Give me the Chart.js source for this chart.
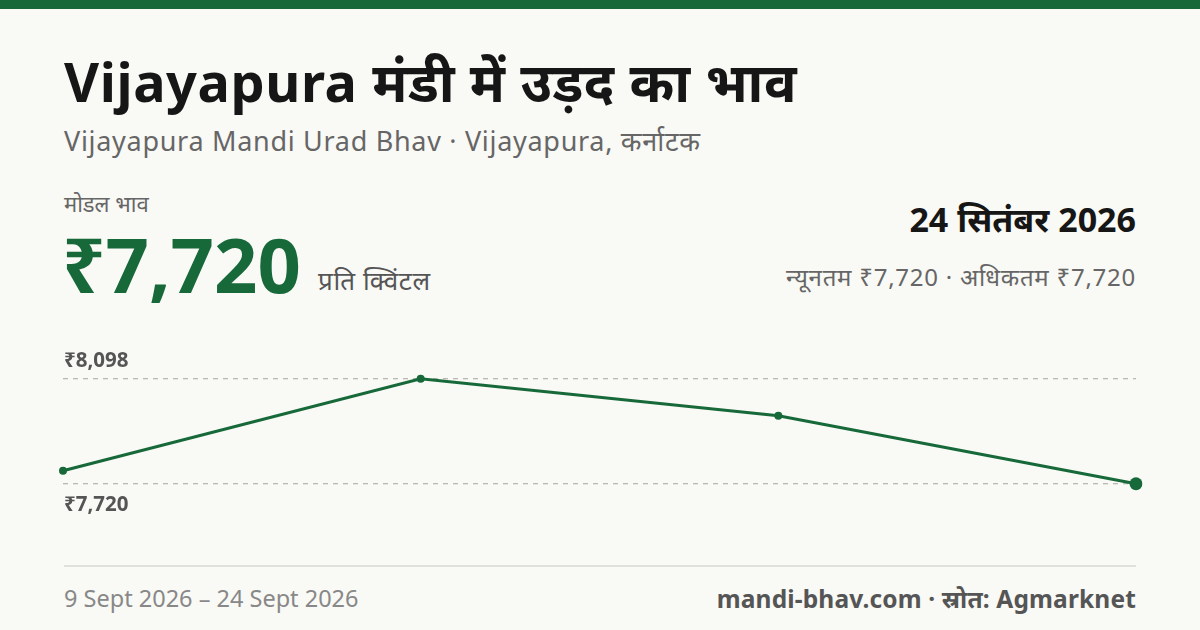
<!DOCTYPE html>
<html><head><meta charset="utf-8">
<script src="https://cdn.jsdelivr.net/npm/chart.js@4/dist/chart.umd.min.js"></script>
<style>
body{margin:0;width:1200px;height:630px;background:#f9f9f5;font-family:"Noto Sans","Noto Sans Devanagari",sans-serif;position:relative;overflow:hidden;color:#1a1a1a}
.a{position:absolute;white-space:nowrap}
</style></head><body>
<div class="a" style="left:0;top:0;width:1200px;height:9px;background:#17693a"></div>
<div class="a" style="left:64px;top:44px;font-size:54px;font-weight:700;color:#161616;letter-spacing:0.6px">Vijayapura मंडी में उड़द का भाव</div>
<div class="a" style="left:64px;top:122px;font-size:27px;color:#666;letter-spacing:0.7px">Vijayapura Mandi Urad Bhav · Vijayapura, कर्नाटक</div>
<div class="a" style="left:64px;top:188px;font-size:22px;color:#666">मोडल भाव</div>
<div class="a" style="left:62px;top:218px;font-size:76px;font-weight:700;color:#17693a;line-height:1.2">₹7,720</div>
<div class="a" style="left:318px;top:262px;font-size:26px;color:#555;letter-spacing:0.6px">प्रति क्विंटल</div>
<div class="a" style="right:64px;top:196px;font-size:34px;font-weight:700;color:#161616">24 सितंबर 2026</div>
<div class="a" style="right:64px;top:260px;font-size:24px;color:#666;letter-spacing:0.75px">न्यूनतम ₹7,720 · अधिकतम ₹7,720</div>
<div class="a" style="left:53px;top:330px;width:1093px;height:220px"><canvas id="c"></canvas></div>
<div class="a" style="left:64px;top:565px;width:1072px;height:2px;background:#e0e0dc"></div>
<div class="a" style="left:64px;top:582px;font-size:23.5px;color:#888">9 Sept 2026 – 24 Sept 2026</div>
<div class="a" style="right:64px;top:582px;font-size:24.5px;font-weight:700;color:#555;letter-spacing:0.15px">mandi-bhav.com · स्रोत: Agmarknet</div>
<script>
const dates=["9 Sept","14 Sept","19 Sept","24 Sept"];
const prices=[7767,8098,7965,7720];
const gridValues=[7720,8098];
const gridLabels=["₹7,720","₹8,098"];
const labelPlugin={id:'lbl',afterDraw(ch){const c=ch.ctx,y=ch.scales.y;c.save();c.font='700 20.5px "Noto Sans"';c.fillStyle='#555';c.textBaseline='middle';
c.fillText(gridLabels[1],11,y.getPixelForValue(gridValues[1])-18);
c.fillText(gridLabels[0],11,y.getPixelForValue(gridValues[0])+21);c.restore();}};
new Chart(document.getElementById('c'),{type:'line',data:{labels:dates,datasets:[{data:prices,borderColor:'#17693a',backgroundColor:'#17693a',borderWidth:3,tension:0,pointRadius:[4,4,4,6.5],pointBackgroundColor:'#17693a',pointBorderWidth:0}]},
options:{responsive:true,maintainAspectRatio:false,animation:false,layout:{padding:{left:10,right:10,top:0,bottom:0}},plugins:{legend:{display:false},tooltip:{enabled:false}},
scales:{x:{display:false,offset:false},y:{min:7505,max:8250,afterBuildTicks(s){s.ticks=gridValues.map(v=>({value:v}));},ticks:{display:false},border:{display:false,dash:[5,5]},grid:{color:'#b8b8b4',lineWidth:1.3,drawTicks:false,tickLength:0}}}},
plugins:[labelPlugin]});
</script>
</body></html>
